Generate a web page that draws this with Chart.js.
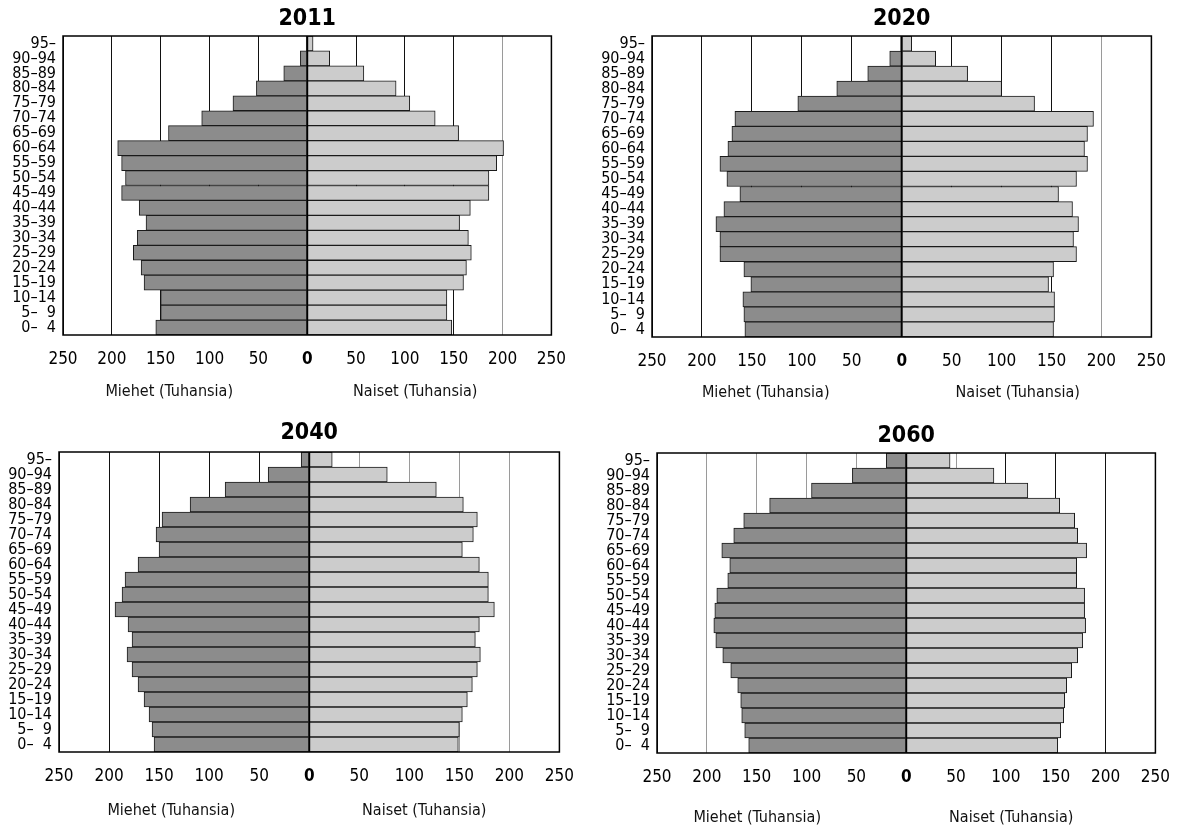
<!DOCTYPE html>
<html>
<head>
<meta charset="utf-8">
<script src="https://cdn.jsdelivr.net/npm/chart.js@4"></script>
<style>
  html,body{margin:0;padding:0;background:#fff;}
  body{width:1180px;height:827px;position:relative;overflow:hidden;}
  canvas{position:absolute;}
</style>
</head>
<body>
<canvas id="c2011"></canvas>
<canvas id="c2020"></canvas>
<canvas id="c2040"></canvas>
<canvas id="c2060"></canvas>
<script>
// ---- DATA (thousands) ----
const ageGroups = ["95–","90–94","85–89","80–84","75–79","70–74","65–69","60–64","55–59","50–54",
                   "45–49","40–44","35–39","30–34","25–29","20–24","15–19","10–14","5–\u20079","0–\u20074"];

const men2011   = [1,7,24,52,76,108,142,194,190,186,190,172,165,174,178,170,167,150,150,155];
const women2011 = [6,23,58,91,105,131,155,201,194,186,186,167,156,165,168,163,160,143,143,148];

const men2020   = [1,12,34,65,104,167,170,174,182,175,162,178,186,182,182,158,151,159,158,157];
const women2020 = [10,34,66,100,133,192,186,183,186,175,157,171,177,172,175,152,147,153,153,152];

const men2040   = [8,41,84,119,147,153,150,171,184,187,194,181,177,182,177,171,165,160,157,155];
const women2040 = [23,78,127,154,168,164,153,170,179,179,185,170,166,171,168,163,158,153,150,149];

const men2060   = [20,54,95,137,163,173,185,177,179,190,192,193,191,184,176,169,166,165,162,158];
const women2060 = [44,88,122,154,169,172,181,171,171,179,179,180,177,172,166,161,159,158,155,152];

const xMin = -250, xMax = 250, xStep = 50;
const menLabel = "Miehet (Tuhansia)";
const womenLabel = "Naiset (Tuhansia)";

// ---- STYLE / LAYOUT ----
const FONT = "'Liberation Sans Narrow','Arial Narrow','DejaVu Sans Condensed',sans-serif";
const MEN_COLOR = "#8c8c8c";
const WOMEN_COLOR = "#cccccc";
const YW = 60, XH = 40, PAD_TOP = 36, PAD_RIGHT = 22, PAD_BOTTOM = 44;

const specs = [
  {id:"c2011", title:"2011", men:men2011, women:women2011, box:[62.5,36,557.6,335], titleDy:17, axDy:57, menDx:-138, womenDx:108, gray:[200]},
  {id:"c2020", title:"2020", men:men2020, women:women2020, box:[651.7,36,1157.7,336.7], titleDy:17, axDy:56, menDx:-136, womenDx:116, gray:[200]},
  {id:"c2040", title:"2040", men:men2040, women:women2040, box:[59,452,566,752], titleDy:19, axDy:59, menDx:-138, womenDx:115, gray:[50,100,150,200]},
  {id:"c2060", title:"2060", men:men2060, women:women2060, box:[657.4,453.3,1162.2,753.3], titleDy:17, axDy:65, menDx:-149, womenDx:105, gray:[-200,-150,-100,-50,50]}
];

const decor = {
  id: "decor",
  afterDatasetsDraw(chart, args, opts) {
    const ctx = chart.ctx, a = chart.chartArea, sp = opts.spec;
    const x0 = chart.scales.x.getPixelForValue(0);
    ctx.save();
    // zero line
    ctx.strokeStyle = "#000";
    ctx.lineWidth = 2;
    ctx.beginPath();
    ctx.moveTo(x0, a.top);
    ctx.lineTo(x0, a.bottom);
    ctx.stroke();
    // frame
    ctx.lineWidth = 1.5;
    ctx.strokeRect(a.left, a.top, a.right - a.left, a.bottom - a.top);
    // title
    ctx.fillStyle = "#000";
    ctx.textAlign = "center";
    ctx.textBaseline = "middle";
    ctx.font = "bold 23px " + FONT;
    ctx.fillText(sp.title, (a.left + a.right) / 2, a.top - sp.titleDy);
    // axis titles
    ctx.font = "16px " + FONT;
    ctx.fillStyle = "#111";
    ctx.fillText(menLabel, x0 + sp.menDx, a.bottom + sp.axDy);
    ctx.fillText(womenLabel, x0 + sp.womenDx, a.bottom + sp.axDy);
    ctx.restore();
  }
};

specs.forEach(sp => {
  const [L, T, R, B] = sp.box;
  const cv = document.getElementById(sp.id);
  const w = Math.round((R - L) + YW + PAD_RIGHT);
  const h = Math.round(PAD_TOP + (B - T) + XH + PAD_BOTTOM);
  cv.width = w; cv.height = h;
  cv.style.width = w + "px"; cv.style.height = h + "px";
  cv.style.left = (L - YW) + "px";
  cv.style.top = (T - PAD_TOP) + "px";

  new Chart(cv, {
    type: "bar",
    data: {
      labels: ageGroups,
      datasets: [
        {label: menLabel, data: sp.men.map(v => -v), backgroundColor: MEN_COLOR,
         borderColor: "#1a1a1a", borderWidth: 1, categoryPercentage: 1, barPercentage: 1},
        {label: womenLabel, data: sp.women.slice(), backgroundColor: WOMEN_COLOR,
         borderColor: "#1a1a1a", borderWidth: 1, categoryPercentage: 1, barPercentage: 1}
      ]
    },
    options: {
      indexAxis: "y",
      responsive: false,
      animation: false,
      devicePixelRatio: 1,
      layout: {padding: {left: 0, top: PAD_TOP, right: PAD_RIGHT, bottom: PAD_BOTTOM}},
      plugins: {legend: {display: false}, tooltip: {enabled: false}, title: {display: false}, decor: {spec: sp}},
      scales: {
        x: {
          type: "linear", min: xMin, max: xMax, stacked: true,
          border: {display: false},
          grid: {
            drawTicks: false, lineWidth: 1,
            color: c => sp.gray.includes(c.tick.value) ? "#9a9a9a" : "#111"
          },
          ticks: {
            stepSize: xStep, padding: 14, maxRotation: 0, autoSkip: false, color: "#000",
            callback: v => Math.abs(v),
            font: c => ({family: FONT, size: 17, weight: (c.tick && c.tick.value === 0) ? "bold" : "normal"})
          },
          afterFit: s => { s.height = XH; }
        },
        y: {
          type: "category", stacked: true,
          border: {display: false},
          grid: {display: false, drawTicks: false},
          ticks: {autoSkip: false, padding: 7, color: "#000", font: {family: FONT, size: 16, lineHeight: 1}},
          afterFit: s => { s.width = YW; }
        }
      }
    },
    plugins: [decor]
  });
});
</script>
</body>
</html>
